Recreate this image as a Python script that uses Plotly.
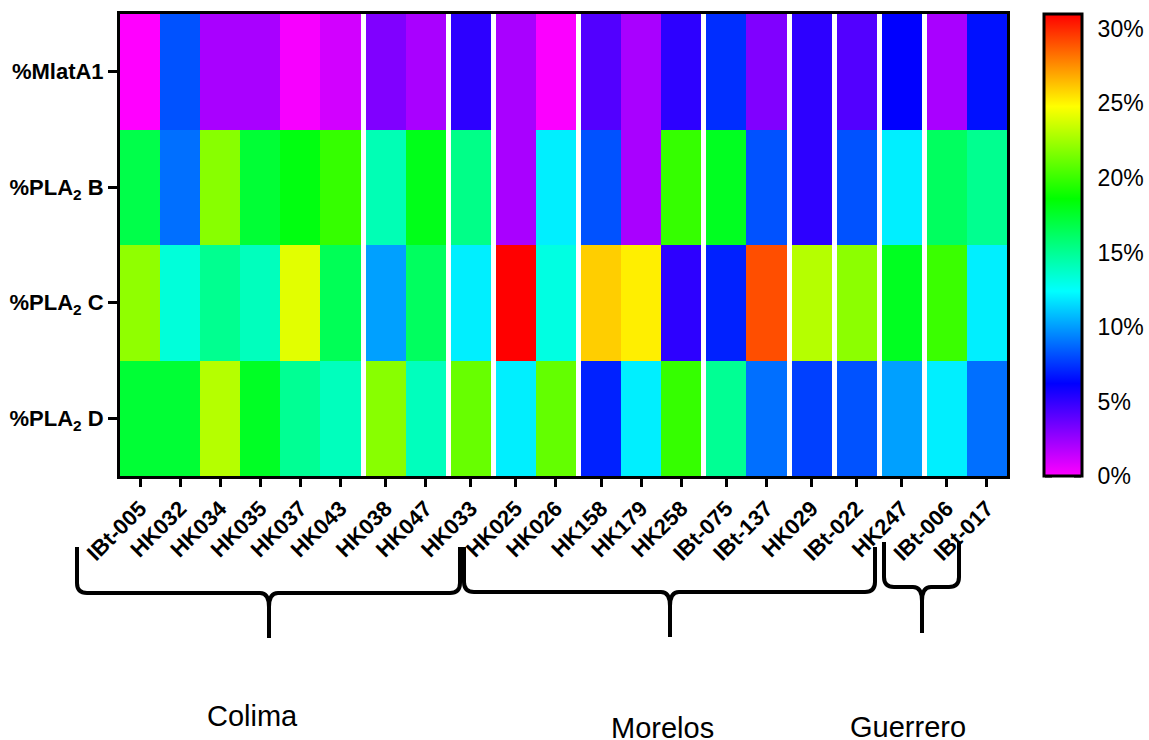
import plotly.graph_objects as go
import numpy as np

# ---------------- data ----------------
samples = ["IBt-005", "HK032", "HK034", "HK035", "HK037", "HK043", "HK038", "HK047",
           "HK033", "HK025", "HK026", "HK158", "HK179", "HK258", "IBt-075", "IBt-137",
           "HK029", "IBt-022", "HK247", "IBt-006", "IBt-017"]
row_labels = ["%MlatA1", "%PLA<sub>2</sub> B", "%PLA<sub>2</sub> C", "%PLA<sub>2</sub> D"]

mlata1 = [0.0, 8.2, 2.1, 2.1, 0.2, 1.1, 3.1, 2.1, 5.1, 2.1, 0.1, 4.2, 2.1, 5.1, 7.3, 3.1, 5.1, 4.2, 6.2, 2.1, 6.6]
pla2_b = [16.8, 8.9, 21.9, 17.3, 18.2, 19.9, 14.2, 18.0, 15.3, 2.1, 12.0, 8.2, 2.1, 19.9, 17.8, 8.2, 5.1, 8.2, 12.0, 16.3, 15.1]
pla2_c = [22.1, 13.3, 15.1, 14.0, 24.1, 16.5, 10.1, 16.3, 12.0, 31.0, 13.1, 26.0, 25.2, 5.1, 7.0, 29.1, 23.0, 22.0, 17.8, 20.0, 12.0]
pla2_d = [17.3, 17.3, 23.0, 17.7, 15.0, 14.0, 21.9, 14.0, 21.1, 12.0, 21.0, 7.0, 12.0, 19.9, 15.0, 8.9, 7.75, 8.2, 10.1, 12.0, 8.9]

groups = ["Colima", "Morelos", "Guerrero"]
cbar_ticks = [0, 5, 10, 15, 20, 25, 30]
zmax = 31

# ---------------- layout helpers ----------------
W, H = 1149, 740
L, R, T, B = 120, 1007, 14, 476          # plot area in pixels
separators_after = [5, 7, 8, 10, 13, 15, 16, 17, 18]  # white separator lines
gap = 0.125
CB_L, CB_R = 1044, 1082                  # colorbar box in pixels

def px(x):
    return (x - L) / (R - L)

def py(y):
    return (B - y) / (B - T)

rows = [mlata1, pla2_b, pla2_c, pla2_d]
edges = [0.0]
zcols = []
centers = []
pos = 0.0
for i in range(len(samples)):
    zcols.append([r[i] for r in rows])
    centers.append(pos + 0.5)
    pos += 1
    edges.append(pos)
    if i in separators_after:
        zcols.append([np.nan] * len(rows))
        pos += gap
        edges.append(pos)
z = np.array(zcols).T

colorscale = [[0.0, "#ff00ff"], [0.2, "#0000ff"], [0.4, "#00ffff"],
              [0.6, "#00ff00"], [0.8, "#ffff00"], [1.0, "#ff0000"]]

FONT = "Liberation Sans, Arial, sans-serif"

fig = go.Figure(go.Heatmap(
    z=z, x=edges, y=[-0.5, 0.5, 1.5, 2.5, 3.5],
    zmin=0, zmax=zmax, colorscale=colorscale, hoverongaps=False,
    colorbar=dict(
        x=px(CB_L), xanchor="left", xpad=0, y=0, yanchor="bottom", len=1, lenmode="fraction",
        ypad=0, thickness=CB_R - CB_L, outlinewidth=3, outlinecolor="black",
        tickvals=cbar_ticks, ticktext=[f"{t}%" for t in cbar_ticks],
        ticks="outside", ticklen=10, tickwidth=3, tickcolor="rgba(0,0,0,0)",
        tickfont=dict(family=FONT, size=23, color="black"),
    ),
))

shapes = []
# ticks drawn inside both edges of the colorbar
for t in cbar_ticks:
    for a, b in ((CB_L + 1, CB_L + 8), (CB_R - 8, CB_R - 1)):
        shapes.append(dict(type="line", xref="paper", yref="paper",
                           x0=px(a), x1=px(b), y0=t / zmax, y1=t / zmax,
                           line=dict(color="black", width=3)))

# braces (pixel geometry)
braces = [
    (77, 460, 547, 593, 269, 638),
    (464, 875, 547, 592, 670, 637),
    (884, 959, 542, 587, 922, 633),
]

def P(x, y):
    return f"{px(x):.5f},{py(y):.5f}"

for (x0, x1, yt, yl, xc, yb) in braces:
    r = 10
    path = (f"M {P(x0, yt)} L {P(x0, yl - r)} Q {P(x0, yl)} {P(x0 + r, yl)} "
            f"L {P(xc - 9, yl)} Q {P(xc, yl)} {P(xc, yl + 14)} L {P(xc, yb)} "
            f"M {P(xc, yl + 14)} Q {P(xc, yl)} {P(xc + 9, yl)} "
            f"L {P(x1 - r, yl)} Q {P(x1, yl)} {P(x1, yl - r)} L {P(x1, yt)}")
    shapes.append(dict(type="path", xref="paper", yref="paper", path=path,
                       line=dict(color="black", width=4)))

label_pos = [(252, 716), (662, 728), (908, 727)]
annotations = []
for g, (lx, ly) in zip(groups, label_pos):
    annotations.append(dict(text=g, xref="paper", yref="paper", x=px(lx), y=py(ly),
                            showarrow=False, xanchor="center", yanchor="middle",
                            font=dict(family=FONT, size=29, color="black")))

fig.update_layout(
    width=W, height=H,
    margin=dict(l=L, r=W - R, t=T, b=H - B, autoexpand=False),
    paper_bgcolor="white", plot_bgcolor="white",
    shapes=shapes, annotations=annotations,
    xaxis=dict(range=[0, edges[-1]], tickmode="array", tickvals=centers, ticktext=samples,
               tickangle=-45, ticks="outside", ticklen=8, tickwidth=3, tickcolor="black",
               showline=True, linewidth=3, linecolor="black", mirror=True,
               showgrid=False, zeroline=False,
               tickfont=dict(family=FONT, size=22, color="black", weight="bold")),
    yaxis=dict(range=[3.5, -0.5], tickmode="array", tickvals=[0, 1, 2, 3], ticktext=row_labels,
               ticks="outside", ticklen=9, tickwidth=3, tickcolor="black",
               showline=True, linewidth=3, linecolor="black", mirror=True,
               showgrid=False, zeroline=False,
               tickfont=dict(family=FONT, size=22, color="black", weight="bold")),
)

fig.write_html("out.html")
